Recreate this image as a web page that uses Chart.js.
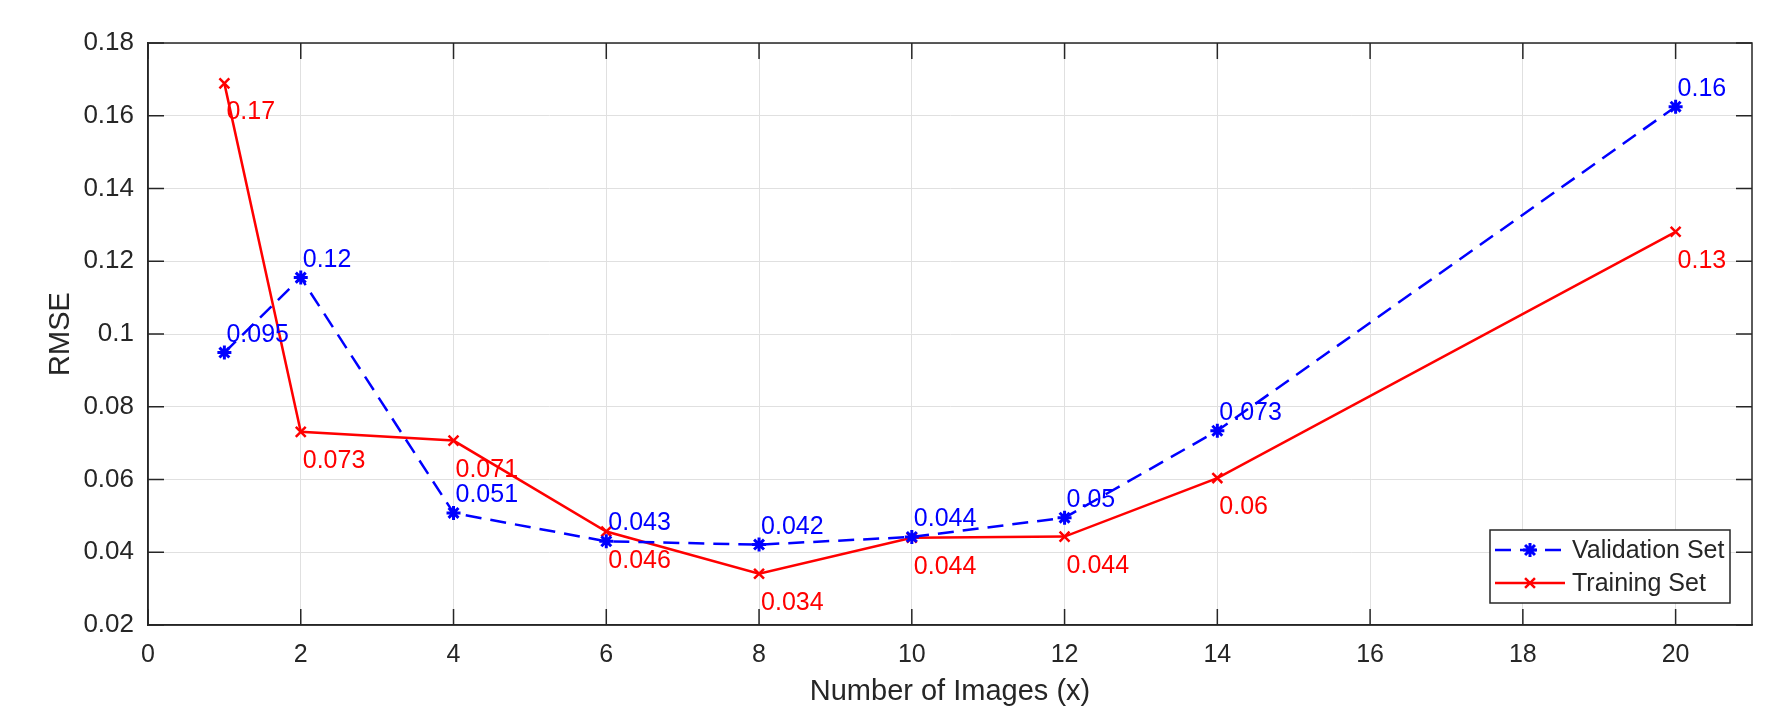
<!DOCTYPE html>
<html><head><meta charset="utf-8">
<script src="https://cdn.jsdelivr.net/npm/chart.js@4.4.0/dist/chart.umd.min.js"></script>
<style>html,body{margin:0;padding:0;background:#fff;overflow:hidden}canvas{display:block}</style>
</head><body>
<canvas id="c" width="1775" height="715"></canvas>
<script>
// ---- data ----
const numberOfImages = [1, 2, 4, 6, 8, 10, 12, 14, 20];
const validationRMSE = [0.0949, 0.1155, 0.0508, 0.0430, 0.0421, 0.0442, 0.0495, 0.0734, 0.1625];
const trainingRMSE   = [0.1689, 0.0731, 0.0707, 0.0457, 0.0341, 0.0440, 0.0443, 0.0604, 0.1281];
const validationLabels = ['0.095', '0.12', '0.051', '0.043', '0.042', '0.044', '0.05', '0.073', '0.16'];
const trainingLabels   = ['0.17', '0.073', '0.071', '0.046', '0.034', '0.044', '0.044', '0.06', '0.13'];
const xTickValues = [0, 2, 4, 6, 8, 10, 12, 14, 16, 18, 20];
const yTickValues = [0.02, 0.04, 0.06, 0.08, 0.10, 0.12, 0.14, 0.16, 0.18];
const yTickLabels = ['0.02', '0.04', '0.06', '0.08', '0.1', '0.12', '0.14', '0.16', '0.18'];
const seriesNames = ['Validation Set', 'Training Set'];

const FONT = "'Liberation Sans', Arial, Helvetica, sans-serif";
const AXIS_COLOR = '#262626';
const BLUE = '#0000ff', RED = '#ff0000';
const DASH = [16, 9];
Chart.defaults.font.family = FONT;
Chart.defaults.color = AXIS_COLOR;

const boxPlugin = {
  id: 'boxPlugin',
  beforeDatasetsDraw(chart) {
    const {ctx, chartArea: a, scales: {x, y}} = chart;
    const tl = 16;
    ctx.save();
    ctx.strokeStyle = AXIS_COLOR;
    ctx.lineWidth = 1.5;
    ctx.beginPath();
    xTickValues.forEach(v => {
      const px = x.getPixelForValue(v);
      ctx.moveTo(px, a.bottom); ctx.lineTo(px, a.bottom - tl);
      ctx.moveTo(px, a.top); ctx.lineTo(px, a.top + tl);
    });
    yTickValues.forEach(v => {
      const py = y.getPixelForValue(v);
      ctx.moveTo(a.left, py); ctx.lineTo(a.left + tl, py);
      ctx.moveTo(a.right, py); ctx.lineTo(a.right - tl, py);
    });
    ctx.stroke();
    ctx.strokeRect(a.left, a.top, a.right - a.left, a.bottom - a.top);
    ctx.restore();
  }
};

const labelPlugin = {
  id: 'labelPlugin',
  afterDatasetsDraw(chart) {
    const ctx = chart.ctx;
    ctx.save();
    ctx.font = '25px ' + FONT;
    ctx.textAlign = 'left';
    ctx.textBaseline = 'alphabetic';
    const m0 = chart.getDatasetMeta(0), m1 = chart.getDatasetMeta(1);
    ctx.fillStyle = BLUE;
    m0.data.forEach((p, i) => ctx.fillText(validationLabels[i], p.x + 2, p.y - 11));
    ctx.fillStyle = RED;
    m1.data.forEach((p, i) => ctx.fillText(trainingLabels[i], p.x + 2, p.y + 36));
    ctx.restore();
  }
};

const legendPlugin = {
  id: 'legendPlugin',
  afterDraw(chart) {
    const ctx = chart.ctx;
    const a = chart.chartArea;
    const bw = 240, bh = 73;
    const bx = a.right - 22 - bw, by = a.bottom - 22 - bh;
    ctx.save();
    ctx.fillStyle = '#fff';
    ctx.fillRect(bx, by, bw, bh);
    ctx.strokeStyle = AXIS_COLOR;
    ctx.lineWidth = 1.5;
    ctx.strokeRect(bx, by, bw, bh);
    const rows = [
      {name: seriesNames[0], color: BLUE, dash: DASH, style: 'star', r: 7, bw: 3, y: by + 20},
      {name: seriesNames[1], color: RED, dash: [], style: 'crossRot', r: 7, bw: 2.5, y: by + 53}
    ];
    rows.forEach(row => {
      ctx.strokeStyle = row.color;
      ctx.lineWidth = 2.5;
      ctx.setLineDash(row.dash);
      ctx.beginPath();
      ctx.moveTo(bx + 5, row.y); ctx.lineTo(bx + 75, row.y);
      ctx.stroke();
      ctx.setLineDash([]);
      ctx.fillStyle = row.color;
      ctx.lineWidth = row.bw;
      Chart.helpers.drawPoint(ctx, {pointStyle: row.style, radius: row.r, borderWidth: row.bw, rotation: 0}, bx + 40, row.y);
      ctx.fillStyle = AXIS_COLOR;
      ctx.font = '25px ' + FONT;
      ctx.textAlign = 'left';
      ctx.textBaseline = 'middle';
      ctx.fillText(row.name, bx + 82, row.y + 1);
    });
    ctx.restore();
  }
};

new Chart(document.getElementById('c'), {
  type: 'line',
  data: {
    datasets: [
      {
        label: seriesNames[0],
        data: numberOfImages.map((v, i) => ({x: v, y: validationRMSE[i]})),
        borderColor: BLUE, backgroundColor: BLUE,
        borderWidth: 2.5, borderDash: DASH,
        pointStyle: 'star', pointRadius: 7, pointBorderWidth: 3,
        pointBorderColor: BLUE, pointBackgroundColor: BLUE,
        fill: false, tension: 0
      },
      {
        label: seriesNames[1],
        data: numberOfImages.map((v, i) => ({x: v, y: trainingRMSE[i]})),
        borderColor: RED, backgroundColor: RED,
        borderWidth: 2.5,
        pointStyle: 'crossRot', pointRadius: 7, pointBorderWidth: 2.5,
        pointBorderColor: RED, pointBackgroundColor: RED,
        fill: false, tension: 0
      }
    ]
  },
  options: {
    responsive: false,
    animation: false,
    devicePixelRatio: 1,
    layout: {padding: {left: 0, top: 43, right: 23, bottom: 0}},
    plugins: {legend: {display: false}, tooltip: {enabled: false}},
    scales: {
      x: {
        type: 'linear', min: 0, max: 21,
        afterBuildTicks: s => { s.ticks = xTickValues.map(v => ({value: v})); },
        afterFit: s => { s.height = 90; },
        grid: {color: '#e0e0e0', lineWidth: 1, drawTicks: false},
        border: {display: true, color: AXIS_COLOR, width: 1.5},
        ticks: {font: {size: 25}, color: AXIS_COLOR, padding: 15, maxRotation: 0, autoSkip: false,
                callback: v => String(v)},
        title: {display: true, text: 'Number of Images (x)', color: AXIS_COLOR,
                font: {size: 29, lineHeight: 1}, padding: {top: 0, bottom: 9}}
      },
      y: {
        type: 'linear', min: 0.02, max: 0.18,
        afterBuildTicks: s => { s.ticks = yTickValues.map(v => ({value: v})); },
        afterFit: s => { s.width = 148; },
        grid: {color: '#e0e0e0', lineWidth: 1, drawTicks: false},
        border: {display: true, color: AXIS_COLOR, width: 1.5},
        ticks: {font: {size: 26}, color: AXIS_COLOR, padding: 14, autoSkip: false,
                callback: (v, i) => yTickLabels[i]},
        title: {display: true, text: 'RMSE', color: AXIS_COLOR,
                font: {size: 29, lineHeight: 1}, padding: {top: 46, bottom: 0}}
      }
    }
  },
  plugins: [boxPlugin, labelPlugin, legendPlugin]
});
</script>
</body></html>
